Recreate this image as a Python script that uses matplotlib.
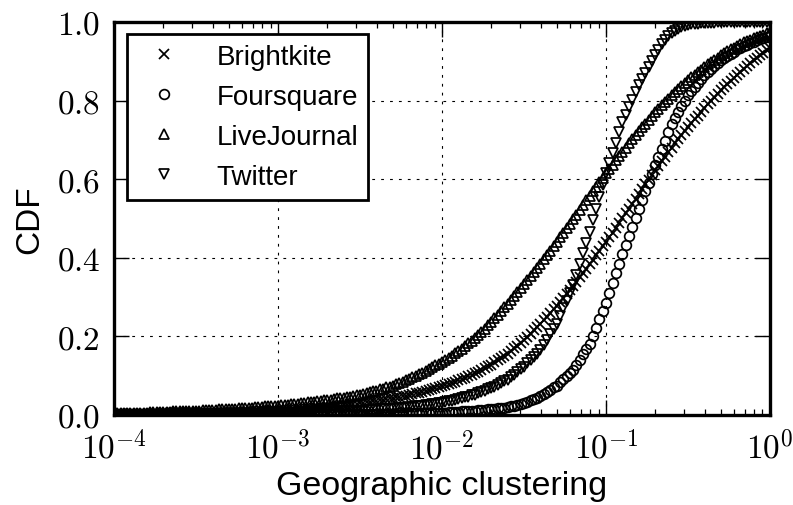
import numpy as np
import matplotlib
matplotlib.use("Agg")
import matplotlib.pyplot as plt
from matplotlib.ticker import FuncFormatter, FixedLocator, LogLocator, NullFormatter

# Evaluation grid of geographic clustering values (log-spaced bins)
clustering = np.logspace(-4, 0, 201)

series_names = ["Brightkite", "Foursquare", "LiveJournal", "Twitter"]
series_markers = ["x", "o", "^", "v"]

brightkite_cdf = [
    .002, .002, .002, .002, .002, .003, .003, .003, .003, .003,
    .003, .003, .003, .003, .003, .004, .004, .004, .004, .004,
    .004, .004, .004, .005, .005, .005, .005, .005, .006, .006,
    .006, .006, .006, .007, .007, .007, .007, .007, .008, .008,
    .008, .008, .009, .009, .009, .010, .010, .010, .011, .011,
    .011, .011, .012, .012, .013, .013, .014, .014, .015, .015,
    .016, .017, .018, .018, .019, .020, .021, .022, .023, .024,
    .025, .026, .027, .028, .029, .030, .031, .032, .034, .035,
    .036, .037, .039, .040, .042, .043, .045, .046, .048, .049,
    .051, .053, .055, .057, .059, .061, .063, .066, .068, .071,
    .073, .076, .079, .082, .085, .088, .092, .095, .099, .102,
    .106, .110, .115, .119, .124, .128, .134, .139, .145, .150,
    .156, .163, .170, .176, .183, .190, .198, .207, .215, .224,
    .232, .241, .250, .260, .269, .278, .288, .298, .308, .318,
    .328, .339, .350, .361, .372, .383, .394, .406, .417, .429,
    .440, .452, .464, .476, .488, .500, .513, .525, .538, .550,
    .563, .575, .587, .599, .611, .623, .634, .646, .657, .669,
    .680, .691, .701, .712, .722, .733, .743, .753, .762, .772,
    .782, .791, .800, .808, .817, .826, .834, .842, .850, .858,
    .866, .873, .880, .888, .895, .902, .909, .915, .922, .928,
    .935,
]

foursquare_cdf = [
    .001, .001, .001, .001, .001, .001, .001, .001, .001, .001,
    .001, .001, .001, .001, .001, .001, .001, .001, .001, .001,
    .001, .001, .001, .001, .001, .001, .001, .001, .001, .001,
    .001, .001, .001, .001, .001, .001, .001, .001, .001, .001,
    .001, .001, .001, .001, .001, .001, .001, .001, .001, .001,
    .001, .001, .001, .001, .001, .001, .001, .001, .002, .002,
    .002, .002, .002, .002, .002, .002, .002, .002, .002, .002,
    .002, .002, .002, .002, .002, .002, .002, .003, .003, .003,
    .003, .003, .003, .003, .003, .003, .003, .004, .004, .004,
    .004, .004, .004, .005, .005, .005, .005, .005, .006, .006,
    .006, .006, .007, .007, .008, .008, .009, .009, .010, .010,
    .011, .012, .012, .013, .014, .015, .016, .017, .018, .019,
    .020, .022, .024, .026, .028, .030, .033, .037, .040, .044,
    .048, .053, .059, .064, .070, .075, .083, .091, .099, .107,
    .115, .128, .141, .154, .167, .180, .201, .222, .243, .264,
    .285, .310, .335, .360, .385, .410, .433, .456, .479, .502,
    .525, .547, .569, .591, .613, .635, .656, .677, .698, .719,
    .740, .755, .770, .785, .800, .815, .825, .835, .845, .855,
    .865, .872, .880, .887, .895, .902, .908, .913, .919, .924,
    .930, .934, .938, .942, .946, .950, .953, .956, .959, .962,
    .965,
]

livejournal_cdf = [
    .004, .004, .004, .005, .005, .005, .005, .006, .006, .006,
    .006, .007, .007, .007, .008, .008, .008, .008, .009, .009,
    .009, .010, .010, .010, .011, .011, .011, .012, .012, .013,
    .013, .013, .014, .014, .015, .015, .016, .016, .017, .017,
    .018, .019, .019, .020, .020, .021, .022, .022, .023, .023,
    .024, .025, .026, .026, .027, .028, .029, .030, .031, .032,
    .033, .034, .035, .036, .037, .038, .039, .040, .042, .043,
    .044, .046, .047, .049, .050, .052, .054, .056, .058, .060,
    .062, .065, .067, .070, .072, .075, .078, .082, .085, .089,
    .092, .096, .100, .104, .108, .112, .117, .121, .126, .130,
    .135, .140, .146, .151, .157, .162, .169, .175, .182, .188,
    .195, .203, .212, .220, .229, .237, .246, .255, .265, .274,
    .283, .293, .303, .313, .323, .333, .343, .354, .364, .375,
    .385, .396, .407, .418, .429, .440, .452, .463, .475, .486,
    .498, .510, .522, .534, .546, .558, .569, .581, .592, .604,
    .615, .626, .637, .648, .659, .670, .680, .691, .701, .712,
    .722, .732, .741, .751, .760, .770, .779, .788, .796, .805,
    .814, .822, .829, .837, .844, .852, .859, .866, .872, .879,
    .886, .892, .898, .903, .909, .915, .920, .925, .930, .935,
    .940, .944, .948, .951, .955, .959, .962, .965, .968, .971,
    .974,
]

twitter_cdf = [
    .001, .001, .001, .001, .001, .001, .001, .001, .001, .001,
    .001, .001, .001, .001, .001, .001, .001, .001, .002, .002,
    .002, .002, .002, .002, .002, .002, .002, .002, .002, .002,
    .002, .002, .002, .002, .002, .003, .003, .003, .003, .003,
    .003, .003, .003, .003, .003, .004, .004, .004, .004, .004,
    .004, .004, .004, .005, .005, .005, .005, .005, .006, .006,
    .006, .006, .006, .007, .007, .007, .007, .008, .008, .009,
    .009, .009, .010, .010, .011, .011, .011, .012, .012, .013,
    .013, .014, .014, .015, .015, .016, .017, .018, .018, .019,
    .020, .021, .022, .023, .024, .025, .026, .027, .029, .030,
    .031, .033, .035, .036, .038, .040, .042, .045, .047, .050,
    .052, .055, .058, .062, .065, .068, .072, .077, .081, .086,
    .090, .096, .103, .109, .116, .122, .131, .139, .148, .156,
    .165, .178, .192, .205, .219, .232, .252, .271, .291, .310,
    .330, .357, .384, .411, .438, .465, .495, .525, .555, .585,
    .615, .641, .667, .693, .719, .745, .764, .783, .802, .821,
    .840, .855, .870, .885, .900, .915, .929, .943, .955, .964,
    .972, .978, .983, .987, .990, .992, .994, .995, .996, .997,
    .997, .998, .998, .998, .999, .999, .999, .999, 1.0, 1.0,
    1.0, 1.0, 1.0, 1.0, 1.0, 1.0, 1.0, 1.0, 1.0, 1.0,
    1.0,
]

series_values = [brightkite_cdf, foursquare_cdf, livejournal_cdf, twitter_cdf]

x_major_ticks = [1e-4, 1e-3, 1e-2, 1e-1, 1e0]
y_major_ticks = [0.0, 0.2, 0.4, 0.6, 0.8, 1.0]

plt.rcParams["mathtext.fontset"] = "cm"
plt.rcParams["font.family"] = ["Liberation Sans", "DejaVu Sans"]

fig = plt.figure(figsize=(7.93, 5.06), dpi=100)
ax = fig.add_axes([0.1438, 0.1779, 0.8272, 0.7767])

for name, marker, values in zip(series_names, series_markers, series_values):
    ax.plot(clustering, values, linestyle="none", marker=marker,
            markersize=7.0, markerfacecolor="none", markeredgecolor="black",
            markeredgewidth=1.25, color="black", label=name)

ax.set_xscale("log")
ax.set_xlim(1e-4, 1e0)
ax.set_ylim(0.0, 1.0)

ax.xaxis.set_major_locator(FixedLocator(x_major_ticks))
ax.xaxis.set_minor_locator(LogLocator(base=10, subs=np.arange(2, 10)))
ax.xaxis.set_minor_formatter(NullFormatter())
ax.xaxis.set_major_formatter(
    FuncFormatter(lambda v, p: r"$10^{%d}$" % int(round(np.log10(v)))))
ax.yaxis.set_major_locator(FixedLocator(y_major_ticks))
ax.yaxis.set_major_formatter(FuncFormatter(lambda v, p: r"$%.1f$" % v))

ax.tick_params(which="both", direction="in", top=True, right=True,
               colors="black")
ax.tick_params(which="major", length=11, width=1.0, labelsize=24)
ax.tick_params(axis="x", which="major", pad=11)
ax.tick_params(axis="y", which="major", pad=10)
ax.tick_params(which="minor", length=4.5, width=0.9)

for spine in ax.spines.values():
    spine.set_linewidth(2.4)

ax.grid(True, which="major", color="black", linestyle=(0, (2.5, 5.5)),
        linewidth=0.8)

ax.set_xlabel("Geographic clustering", fontsize=24.5, labelpad=3)
ax.set_ylabel("CDF", fontsize=24, labelpad=8)

leg = ax.legend(loc="upper left", numpoints=1, fontsize=20, fancybox=False,
                framealpha=1.0, edgecolor="black", borderaxespad=0.45,
                borderpad=0.35, labelspacing=0.5, handletextpad=0.9)
leg.get_frame().set_linewidth(2.0)

fig.savefig("out.png", dpi=100)
